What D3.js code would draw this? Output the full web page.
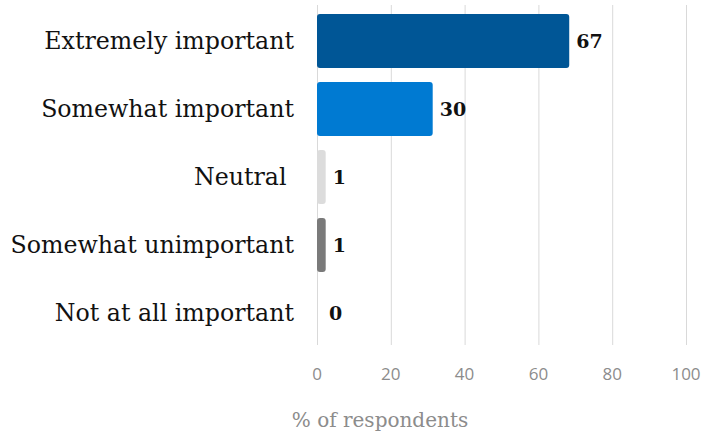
<!DOCTYPE html>
<html>
<head>
<meta charset="UTF-8">
<script src="https://d3js.org/d3.v7.min.js"></script>
<style>
  body { margin: 0; background: #fff; }
  text { font-family: "DejaVu Serif", Georgia, serif; }
</style>
</head>
<body>
<svg id="chart" width="701" height="433"></svg>
<script>
  const categories = ["Extremely important", "Somewhat important", "Neutral ", "Somewhat unimportant", "Not at all important"];
  const values = [67, 30, 1, 1, 0];
  const barColors = ["#005696", "#007ad2", "#dcdcdc", "#7a7a7a", "#bfbfbf"];
  const ticks = [0, 20, 40, 60, 80, 100];
  const axisTitle = "% of respondents";

  const svg = d3.select("#chart");
  const data = categories.map((c, i) => ({ cat: c, val: values[i], color: barColors[i] }));

  const x = d3.scaleLinear([0, 100], [317, 686]);
  const y = d3.scaleBand(categories, [7, 347]).paddingInner(0.206).paddingOuter(0.103);

  // gridlines
  const grid = d3.axisBottom(x).tickValues(ticks).tickFormat("").tickSize(-340);
  svg.append("g")
     .attr("transform", "translate(0,345)")
     .call(grid)
     .call(g => g.select(".domain").remove())
     .call(g => g.selectAll("line").attr("stroke", "#d9d9d9").attr("stroke-width", 1));

  // tick labels
  svg.append("g").selectAll("text").data(ticks).join("text")
     .attr("x", d => x(d))
     .attr("y", 380)
     .attr("text-anchor", "middle")
     .attr("fill", "#8c8c8c")
     .style("font-family", "'Open Sans', sans-serif")
     .style("font-size", "17px")
     .text(d => d);

  // bars
  svg.append("g").selectAll("rect").data(data.filter(d => d.val > 0)).join("rect")
     .attr("x", x(0))
     .attr("y", d => y(d.cat))
     .attr("width", d => x(d.val) - x(0) + 5)
     .attr("height", y.bandwidth())
     .attr("rx", 3)
     .attr("fill", d => d.color);

  // value labels
  svg.append("g").selectAll("text").data(data).join("text")
     .attr("x", d => x(d.val) + 12)
     .attr("y", d => y(d.cat) + y.bandwidth() / 2)
     .attr("dy", "0.35em")
     .attr("fill", "#111")
     .style("font-size", "19px")
     .style("font-weight", "bold")
     .text(d => d.val);

  // category labels
  svg.append("g").selectAll("text").data(data).join("text")
     .attr("x", 294)
     .attr("y", d => y(d.cat) + y.bandwidth() / 2)
     .attr("dy", "0.35em")
     .attr("text-anchor", "end")
     .attr("fill", "#111")
     .style("font-size", "23.7px")
     .style("white-space", "pre")
     .text(d => d.cat);

  svg.append("text")
     .attr("x", 380)
     .attr("y", 427)
     .attr("text-anchor", "middle")
     .attr("fill", "#8c8c8c")
     .style("font-size", "20px")
     .text(axisTitle);
</script>
</body>
</html>
